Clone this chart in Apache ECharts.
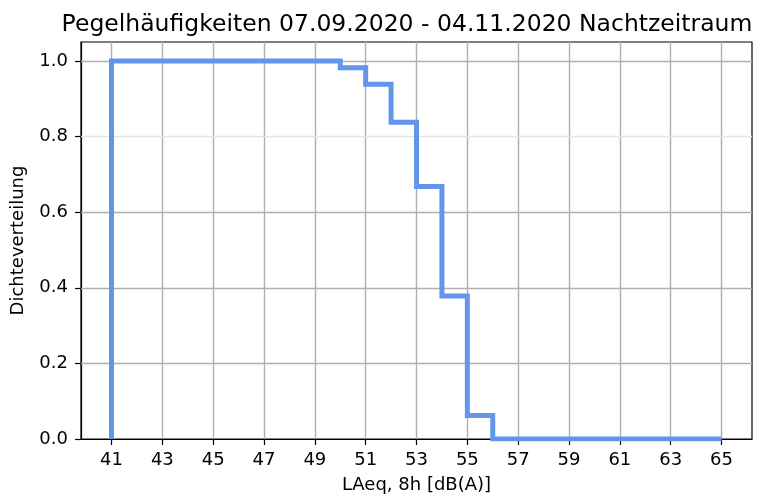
<!DOCTYPE html>
<html>
<head>
<meta charset="utf-8">
<script src="https://cdn.jsdelivr.net/npm/echarts@6/dist/echarts.min.js"></script>
<style>
  html, body { margin: 0; padding: 0; background: #fff; }
  #chart { width: 772px; height: 497px; }
</style>
</head>
<body>
<div id="chart"></div>
<script>
// bin edges (dB(A)) and reverse cumulative density per bin
const binEdges = [41, 42, 43, 44, 45, 46, 47, 48, 49, 50, 51, 52, 53, 54, 55, 56, 57, 58, 59, 60, 61, 62, 63, 64, 65]
const density = [1.0, 1.0, 1.0, 1.0, 1.0, 1.0, 1.0, 1.0, 1.0, 0.982, 0.938, 0.838, 0.668, 0.378, 0.062, 0, 0, 0, 0, 0, 0, 0, 0, 0]
const xTicks = [41, 43, 45, 47, 49, 51, 53, 55, 57, 59, 61, 63, 65]
const yTicks = [0, 0.2, 0.4, 0.6, 0.8, 1.0]

const font = 'DejaVu Sans'

// step outline: start at 0 on the first edge, then one point per bin, close on last edge
const stepData = [[binEdges[0], 0]]
density.forEach((v, i) => stepData.push([binEdges[i], v]))
stepData.push([binEdges[binEdges.length - 1], density[density.length - 1]])

const gridColor = '#b0b0b0'

const options = {
  animation: false,
  title: {
    text: 'Pegelhäufigkeiten 07.09.2020 - 04.11.2020 Nachtzeitraum',
    left: 407,
    top: 8,
    textAlign: 'center',
    textStyle: { fontFamily: font, fontSize: 23.5, fontWeight: 'normal', color: '#000' },
  },
  grid: {
    left: 81,
    right: 20,
    top: 42,
    bottom: 58,
    outerBoundsMode: 'none',
    show: true,
    borderColor: '#000',
    borderWidth: 1.2,
  },
  xAxis: {
    type: 'value',
    min: 39.8,
    max: 66.2,
    name: 'LAeq, 8h [dB(A)]',
    nameLocation: 'middle',
    nameGap: 37,
    nameTextStyle: { fontFamily: font, fontSize: 18, color: '#000' },
    axisLine: { show: true, onZero: false, lineStyle: { color: '#000', width: 1.2 } },
    axisTick: {
      show: true,
      length: 6,
      lineStyle: { color: '#000', width: 1.2 },
      customValues: xTicks,
    },
    axisLabel: {
      fontFamily: font,
      fontSize: 18,
      color: '#000',
      margin: 12,
      customValues: xTicks,
      showMinLabel: true,
      showMaxLabel: true,
    },
    splitLine: { show: false },
  },
  yAxis: {
    type: 'value',
    min: 0,
    max: 1.05,
    name: 'Dichteverteilung',
    nameLocation: 'middle',
    nameGap: 54,
    nameTextStyle: { fontFamily: font, fontSize: 18, color: '#000' },
    axisLine: { show: true, lineStyle: { color: '#000', width: 1.2 } },
    axisTick: {
      show: true,
      length: 6,
      lineStyle: { color: '#000', width: 1.2 },
      customValues: yTicks,
    },
    axisLabel: {
      fontFamily: font,
      fontSize: 18,
      color: '#000',
      margin: 13,
      customValues: yTicks,
      formatter: v => v.toFixed(1),
    },
    splitLine: { show: false },
  },
  series: [
    // vertical grid lines at the labelled ticks
    {
      type: 'line',
      silent: true,
      data: [],
      markLine: {
        symbol: 'none',
        silent: true,
        label: { show: false },
        lineStyle: { color: gridColor, width: 1.4, type: 'solid' },
        data: xTicks.map(x => ({ xAxis: x })),
      },
    },
    // horizontal grid lines (0.8 is drawn lighter)
    {
      type: 'line',
      silent: true,
      data: [],
      markLine: {
        symbol: 'none',
        silent: true,
        label: { show: false },
        data: yTicks.filter(y => y > 0).map(y => ({
          yAxis: y,
          lineStyle: { color: y === 0.8 ? '#e4e4e4' : gridColor, width: 1.4, type: 'solid' },
        })),
      },
    },
    {
      name: 'Dichte',
      type: 'line',
      step: 'end',
      symbol: 'none',
      data: stepData,
      lineStyle: { color: '#6495ED', width: 5, join: 'miter' },
      z: 5,
    },
  ],
}

// title is placed by its center; nudge it left to sit where the reference has it
options.title.left = 402

const chart = echarts.init(document.getElementById('chart'))
chart.setOption(options)
</script>
</body>
</html>
